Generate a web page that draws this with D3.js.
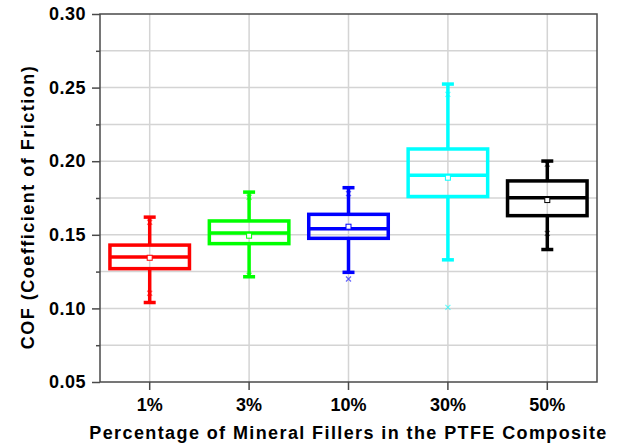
<!DOCTYPE html>
<html>
<head>
<meta charset="utf-8">
<script src="https://cdn.jsdelivr.net/npm/d3@7"></script>
<style>
  body { margin: 0; background: #fff; }
  svg { display: block; font-family: "Liberation Sans", Arial, sans-serif; font-weight: bold; }
</style>
</head>
<body>
<div id="chart"></div>
<script>
// box statistics per filler percentage
var categories  = ["1%", "3%", "10%", "30%", "50%"];
var whiskerLow  = [0.104, 0.1215, 0.1245, 0.133, 0.140];
var q1          = [0.127, 0.144, 0.1476, 0.176, 0.163];
var median      = [0.135, 0.1512, 0.1541, 0.1904, 0.1752];
var q3          = [0.143, 0.1594, 0.1639, 0.2083, 0.1866];
var whiskerHigh = [0.162, 0.179, 0.182, 0.2524, 0.2001];
var means       = [0.1344, 0.1494, 0.1555, 0.1888, 0.1736];
var markLow     = [0.1103, 0.1225, 0.120, 0.1007, 0.151];
var markHigh    = [0.1585, 0.1755, 0.178, 0.2454, 0.198];

var yMajor = [0.05, 0.10, 0.15, 0.20, 0.25, 0.30];
var yMinor = [0.075, 0.125, 0.175, 0.225, 0.275];

var boxColors = ["#ff0000", "#00ff00", "#0000ff", "#00ffff", "#000000"];

var width = 617, height = 446;
var margin = {top: 14, right: 20, bottom: 64, left: 100};

var svg = d3.select("#chart").append("svg")
  .attr("width", width)
  .attr("height", height);

var x = d3.scaleBand()
  .domain(categories)
  .range([margin.left, width - margin.right])
  .padding(0);

var y = d3.scaleLinear()
  .domain([0.05, 0.30])
  .range([height - margin.bottom, margin.top]);

var gridColor = "#d4d4d4";
var axisColor = "#4a4a4a";

// grid lines
var grid = svg.append("g").attr("class", "grid");
grid.selectAll("line.h")
  .data(yMajor.concat(yMinor).filter(function(v) { return v > 0.05 && v < 0.30; }))
  .enter().append("line")
  .attr("class", "h")
  .attr("x1", margin.left).attr("x2", width - margin.right)
  .attr("y1", function(d) { return y(d); })
  .attr("y2", function(d) { return y(d); })
  .style("stroke", gridColor)
  .style("stroke-width", 1.5);

grid.selectAll("line.v")
  .data(categories)
  .enter().append("line")
  .attr("class", "v")
  .attr("x1", function(d) { return x(d) + x.bandwidth() / 2; })
  .attr("x2", function(d) { return x(d) + x.bandwidth() / 2; })
  .attr("y1", margin.top).attr("y2", height - margin.bottom)
  .style("stroke", gridColor)
  .style("stroke-width", 1.5);

// axes
var yAxis = d3.axisLeft(y)
  .tickValues(yMajor)
  .tickSize(8)
  .tickPadding(6)
  .tickFormat(d3.format(".2f"));

var yMinorAxis = d3.axisLeft(y)
  .tickValues(yMinor)
  .tickSize(4)
  .tickFormat("");

var xAxis = d3.axisBottom(x)
  .tickSize(8)
  .tickPadding(8);

var gy = svg.append("g")
  .attr("transform", "translate(" + margin.left + ",0)")
  .call(yAxis);
var gyMinor = svg.append("g")
  .attr("transform", "translate(" + margin.left + ",0)")
  .call(yMinorAxis);
var gx = svg.append("g")
  .attr("transform", "translate(0," + (height - margin.bottom) + ")")
  .call(xAxis);

[gy, gyMinor, gx].forEach(function(g) {
  g.select(".domain").remove();
  g.selectAll("line").style("stroke", axisColor).style("stroke-width", 1.5);
  g.selectAll("text")
    .style("font-size", "18px")
    .style("font-weight", "bold")
    .style("font-family", "'Liberation Sans', Arial, sans-serif")
    .style("fill", "#000");
});
gy.selectAll("text").style("letter-spacing", "0.5px");

// frame
svg.append("rect")
  .attr("x", margin.left)
  .attr("y", margin.top)
  .attr("width", width - margin.left - margin.right)
  .attr("height", height - margin.top - margin.bottom)
  .style("fill", "none")
  .style("stroke", axisColor)
  .style("stroke-width", 1.5);

// boxes
var boxW = x.bandwidth() * 0.8;
var capW = 12;
var lw = 3.5;

categories.forEach(function(c, i) {
  var cx = x(c) + x.bandwidth() / 2;
  var col = boxColors[i];
  var g = svg.append("g").attr("class", "box");

  // whiskers
  g.append("line")
    .attr("x1", cx).attr("x2", cx)
    .attr("y1", y(whiskerHigh[i])).attr("y2", y(q3[i]))
    .style("stroke", col).style("stroke-width", lw);
  g.append("line")
    .attr("x1", cx).attr("x2", cx)
    .attr("y1", y(q1[i])).attr("y2", y(whiskerLow[i]))
    .style("stroke", col).style("stroke-width", lw);

  // caps
  [whiskerHigh[i], whiskerLow[i]].forEach(function(v) {
    g.append("line")
      .attr("x1", cx - capW / 2).attr("x2", cx + capW / 2)
      .attr("y1", y(v)).attr("y2", y(v))
      .style("stroke", col).style("stroke-width", lw);
  });

  // box
  g.append("rect")
    .attr("x", cx - boxW / 2)
    .attr("y", y(q3[i]))
    .attr("width", boxW)
    .attr("height", y(q1[i]) - y(q3[i]))
    .style("fill", "none")
    .style("stroke", col)
    .style("stroke-width", lw);

  // median
  g.append("line")
    .attr("x1", cx - boxW / 2).attr("x2", cx + boxW / 2)
    .attr("y1", y(median[i])).attr("y2", y(median[i]))
    .style("stroke", col).style("stroke-width", lw);

  // mean square
  g.append("rect")
    .attr("x", cx - 2.5).attr("y", y(means[i]) - 2.5)
    .attr("width", 5).attr("height", 5)
    .style("fill", "#fff")
    .style("stroke", col)
    .style("stroke-width", 1);

  // x markers
  [markHigh[i], markLow[i]].forEach(function(v) {
    var yy = y(v), s = 2.5;
    g.append("path")
      .attr("d", "M" + (cx - s) + "," + (yy - s) + "L" + (cx + s) + "," + (yy + s) +
                 "M" + (cx - s) + "," + (yy + s) + "L" + (cx + s) + "," + (yy - s))
      .style("stroke", col)
      .style("stroke-width", 1.2)
      .style("opacity", 0.6);
  });
});

// axis titles
svg.append("text")
  .attr("x", (margin.left + width - margin.right) / 2)
  .attr("y", 439)
  .attr("text-anchor", "middle")
  .style("font-size", "18px")
  .style("letter-spacing", "1.4px")
  .text("Percentage of Mineral Fillers in the PTFE Composite");

svg.append("text")
  .attr("transform", "translate(34," + 207 + ")rotate(-90)")
  .attr("text-anchor", "middle")
  .style("font-size", "18px")
  .style("letter-spacing", "1.5px")
  .text("COF (Coefficient of Friction)");
</script>
</body>
</html>
